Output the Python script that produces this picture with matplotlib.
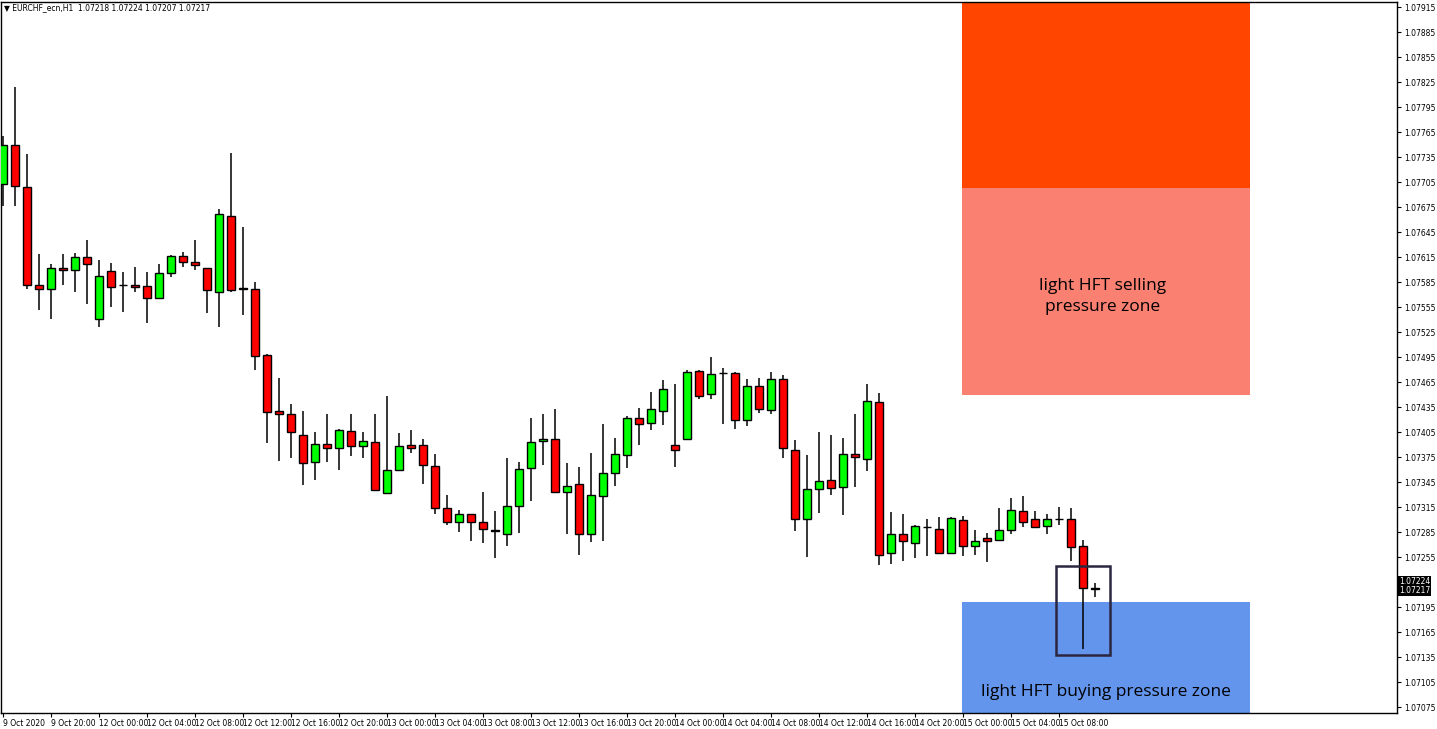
import numpy as np
import matplotlib
matplotlib.use("Agg")
from matplotlib import pyplot as plt
from matplotlib.patches import Rectangle
import matplotlib.transforms as mtransforms

# EURCHF H1 candles
opens = [1.07703, 1.07749, 1.07699, 1.07581, 1.07577, 1.07602, 1.07599, 1.07615, 1.07541, 1.07598,
         1.07581, 1.07581, 1.07580, 1.07566, 1.07596, 1.07616, 1.07609, 1.07602, 1.07573, 1.07664,
         1.07578, 1.07577, 1.07497, 1.07430, 1.07427, 1.07401, 1.07369, 1.07391, 1.07386, 1.07406,
         1.07388, 1.07393, 1.07332, 1.07359, 1.07389, 1.07389, 1.07364, 1.07314, 1.07297, 1.07307,
         1.07297, 1.07287, 1.07283, 1.07316, 1.07362, 1.07394, 1.07397, 1.07333, 1.07343, 1.07283,
         1.07328, 1.07356, 1.07377, 1.07422, 1.07416, 1.07430, 1.07389, 1.07397, 1.07478, 1.07451,
         1.07476, 1.07476, 1.07419, 1.07460, 1.07431, 1.07469, 1.07383, 1.07301, 1.07337, 1.07347,
         1.07339, 1.07379, 1.07373, 1.07441, 1.07260, 1.07283, 1.07272, 1.07291, 1.07289, 1.07260,
         1.07299, 1.07268, 1.07278, 1.07275, 1.07287, 1.07310, 1.07301, 1.07292, 1.07301, 1.07301,
         1.07268, 1.07218]
highs = [1.07760, 1.07819, 1.07739, 1.07619, 1.07607, 1.07619, 1.07620, 1.07635, 1.07611, 1.07608,
         1.07597, 1.07603, 1.07597, 1.07607, 1.07617, 1.07621, 1.07635, 1.07602, 1.07673, 1.07740,
         1.07651, 1.07585, 1.07499, 1.07470, 1.07439, 1.07430, 1.07405, 1.07427, 1.07409, 1.07427,
         1.07405, 1.07427, 1.07448, 1.07404, 1.07407, 1.07397, 1.07379, 1.07329, 1.07311, 1.07307,
         1.07333, 1.07310, 1.07374, 1.07369, 1.07422, 1.07427, 1.07433, 1.07368, 1.07363, 1.07380,
         1.07415, 1.07398, 1.07424, 1.07434, 1.07453, 1.07467, 1.07463, 1.07479, 1.07479, 1.07495,
         1.07482, 1.07477, 1.07469, 1.07470, 1.07477, 1.07473, 1.07395, 1.07377, 1.07405, 1.07401,
         1.07398, 1.07427, 1.07463, 1.07452, 1.07309, 1.07307, 1.07293, 1.07301, 1.07303, 1.07303,
         1.07304, 1.07287, 1.07284, 1.07314, 1.07326, 1.07328, 1.07310, 1.07307, 1.07315, 1.07314,
         1.07275, 1.07224]
lows = [1.07676, 1.07676, 1.07577, 1.07551, 1.07541, 1.07581, 1.07573, 1.07559, 1.07531, 1.07555,
        1.07549, 1.07573, 1.07536, 1.07565, 1.07591, 1.07603, 1.07599, 1.07548, 1.07531, 1.07573,
        1.07545, 1.07479, 1.07392, 1.07370, 1.07374, 1.07341, 1.07347, 1.07369, 1.07359, 1.07376,
        1.07374, 1.07335, 1.07332, 1.07359, 1.07380, 1.07343, 1.07307, 1.07293, 1.07285, 1.07274,
        1.07272, 1.07254, 1.07268, 1.07284, 1.07322, 1.07365, 1.07333, 1.07283, 1.07257, 1.07273,
        1.07274, 1.07340, 1.07362, 1.07389, 1.07407, 1.07413, 1.07363, 1.07397, 1.07445, 1.07445,
        1.07415, 1.07409, 1.07412, 1.07428, 1.07427, 1.07374, 1.07286, 1.07255, 1.07308, 1.07329,
        1.07305, 1.07339, 1.07358, 1.07245, 1.07247, 1.07250, 1.07254, 1.07256, 1.07259, 1.07260,
        1.07256, 1.07257, 1.07249, 1.07275, 1.07283, 1.07291, 1.07291, 1.07283, 1.07293, 1.07250,
        1.07145, 1.07207]
closes = [1.07749, 1.07700, 1.07581, 1.07577, 1.07602, 1.07599, 1.07615, 1.07607, 1.07592, 1.07579,
          1.07581, 1.07579, 1.07566, 1.07596, 1.07616, 1.07609, 1.07605, 1.07575, 1.07667, 1.07575,
          1.07577, 1.07496, 1.07429, 1.07427, 1.07405, 1.07368, 1.07391, 1.07386, 1.07407, 1.07388,
          1.07394, 1.07335, 1.07359, 1.07388, 1.07386, 1.07365, 1.07314, 1.07297, 1.07307, 1.07297,
          1.07289, 1.07286, 1.07316, 1.07361, 1.07393, 1.07397, 1.07333, 1.07340, 1.07283, 1.07329,
          1.07356, 1.07379, 1.07422, 1.07415, 1.07433, 1.07457, 1.07383, 1.07477, 1.07448, 1.07475,
          1.07476, 1.07419, 1.07460, 1.07433, 1.07469, 1.07386, 1.07301, 1.07337, 1.07346, 1.07338,
          1.07379, 1.07375, 1.07442, 1.07257, 1.07283, 1.07274, 1.07292, 1.07291, 1.07260, 1.07302,
          1.07268, 1.07274, 1.07274, 1.07287, 1.07311, 1.07297, 1.07291, 1.07301, 1.07301, 1.07267,
          1.07218, 1.07217]

xtick_labels = ["9 Oct 2020", "9 Oct 20:00", "12 Oct 00:00", "12 Oct 04:00", "12 Oct 08:00",
                "12 Oct 12:00", "12 Oct 16:00", "12 Oct 20:00", "13 Oct 00:00", "13 Oct 04:00",
                "13 Oct 08:00", "13 Oct 12:00", "13 Oct 16:00", "13 Oct 20:00", "14 Oct 00:00",
                "14 Oct 04:00", "14 Oct 08:00", "14 Oct 12:00", "14 Oct 16:00", "14 Oct 20:00",
                "15 Oct 00:00", "15 Oct 04:00", "15 Oct 08:00"]

# zones (price levels)
sell_top = 1.07921
sell_mid = 1.07698
sell_low = 1.07449
buy_top = 1.07201
buy_low = 1.07068
zone_x0, zone_x1 = 79.96, 103.96
box_x0, box_x1 = 87.8, 92.3
box_hi, box_lo = 1.07244, 1.07137
last_high, last_close = 1.07224, 1.07217

o = np.array(opens)
h = np.array(highs)
l = np.array(lows)
c = np.array(closes)
idx = np.arange(len(o))

fig = plt.figure(figsize=(14.37, 7.29), dpi=100)
ax = fig.add_axes([1.5 / 1437, 16 / 729, 1395.5 / 1437, 711 / 729])

# zones
ax.add_patch(Rectangle((zone_x0, sell_mid), zone_x1 - zone_x0, sell_top - sell_mid,
                       facecolor='#ff4500', edgecolor='none', zorder=0))
ax.add_patch(Rectangle((zone_x0, sell_low), zone_x1 - zone_x0, sell_mid - sell_low,
                       facecolor='#fa8072', edgecolor='none', zorder=0))
ax.add_patch(Rectangle((zone_x0, buy_low), zone_x1 - zone_x0, buy_top - buy_low,
                       facecolor='#6495ed', edgecolor='none', zorder=0))

# candles
ax.vlines(idx, l, h, color='black', linewidth=1.1, zorder=2)
up = c >= o
colors = np.where(up, '#00ff00', '#ff0000')
ax.bar(idx, np.abs(c - o), bottom=np.minimum(o, c), width=0.65, color=colors,
       edgecolor='black', linewidth=1.0, zorder=3)

# highlight box
ax.add_patch(Rectangle((box_x0, box_lo), box_x1 - box_x0, box_hi - box_lo,
                       facecolor='none', edgecolor='#2b2640', linewidth=1.8, zorder=4))

ax.text((zone_x0 + zone_x1) / 2 - 0.3, 1.07568, "light HFT selling\npressure zone", ha='center',
        va='center', fontsize=12.5, family='Open Sans', linespacing=1.45, zorder=5)
ax.text((zone_x0 + zone_x1) / 2, 1.07093, "light HFT buying pressure zone", ha='center',
        va='center', fontsize=12.5, family='Open Sans', zorder=5)

ax.set_xlim(-0.1, 116.2)
ax.set_ylim(1.07068, 1.07921)

ax.yaxis.tick_right()
yt = np.arange(1.07075, 1.07916, 0.0003)
ax.set_yticks(yt)
# the tick label under the current-price box is hidden, as on the terminal
ax.set_yticklabels(["" if abs(v - 1.07225) < 1e-7 else "%.5f" % v for v in yt])
ax.tick_params(axis='y', direction='out', length=3, width=0.8, labelsize=5.5, pad=2)

ax.set_xticks(idx[::4][:len(xtick_labels)])
ax.set_xticklabels(xtick_labels, ha='left')
ax.tick_params(axis='x', direction='out', length=3, width=0.8, labelsize=5.5, pad=1.5)

for s in ax.spines.values():
    s.set_linewidth(1.0)
    s.set_color('black')

# current price labels on the right axis
tr = mtransforms.blended_transform_factory(ax.transAxes, ax.transData)
ax.text(1.0015, (last_high + last_close) / 2, "%.5f\n%.5f" % (last_high, last_close),
        transform=tr, fontsize=5.5, color='white', va='center', ha='left', linespacing=0.95,
        bbox=dict(facecolor='black', edgecolor='none', pad=0.8), clip_on=False)

fig.text(4 / 1437, 1 - 8 / 729, "\u25bc EURCHF_ecn,H1  1.07218 1.07224 1.07207 1.07217",
         fontsize=5.5, va='center', ha='left')

fig.savefig("out.png", dpi=100, facecolor='white')
